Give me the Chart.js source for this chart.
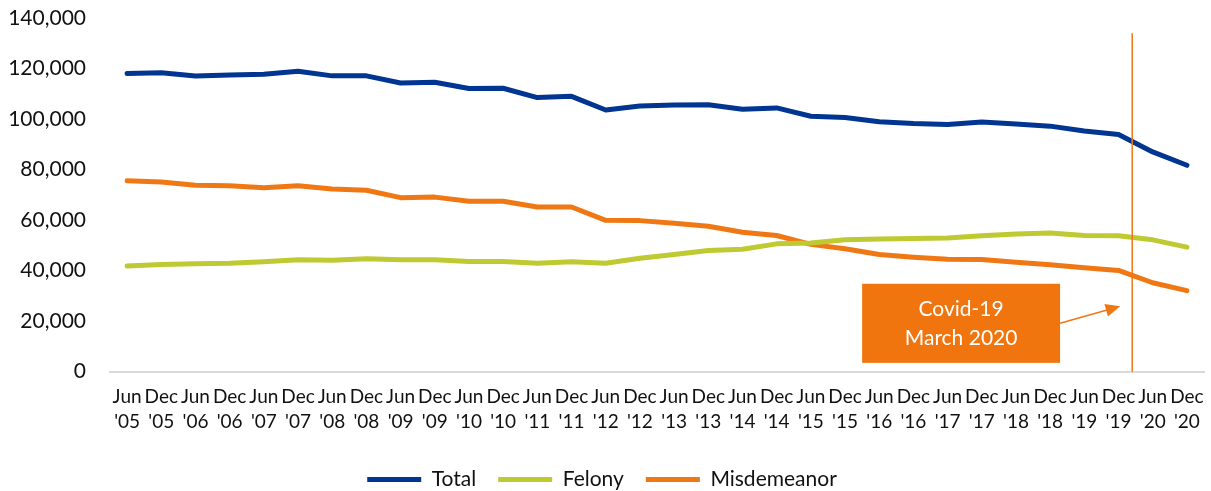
<!DOCTYPE html>
<html>
<head>
<meta charset="utf-8">
<script src="https://cdn.jsdelivr.net/npm/chart.js@4.4.1/dist/chart.umd.min.js"></script>
<style>
  html, body { margin: 0; padding: 0; background: #fff; }
  #wrap { width: 1211px; height: 491px; position: relative; }
</style>
</head>
<body>
<div id="wrap"><canvas id="chart"></canvas></div>
<script>
var labels = [
    ['Jun', "'05"], ['Dec', "'05"], ['Jun', "'06"], ['Dec', "'06"],
    ['Jun', "'07"], ['Dec', "'07"], ['Jun', "'08"], ['Dec', "'08"],
    ['Jun', "'09"], ['Dec', "'09"], ['Jun', "'10"], ['Dec', "'10"],
    ['Jun', "'11"], ['Dec', "'11"], ['Jun', "'12"], ['Dec', "'12"],
    ['Jun', "'13"], ['Dec', "'13"], ['Jun', "'14"], ['Dec', "'14"],
    ['Jun', "'15"], ['Dec', "'15"], ['Jun', "'16"], ['Dec', "'16"],
    ['Jun', "'17"], ['Dec', "'17"], ['Jun', "'18"], ['Dec', "'18"],
    ['Jun', "'19"], ['Dec', "'19"], ['Jun', "'20"], ['Dec', "'20"]
];

var total = [118000, 118300, 117000, 117400, 117700, 118900, 117100, 117100,
    114300, 114600, 112100, 112200, 108500, 109000, 103600, 105200,
    105600, 105700, 103900, 104400, 101100, 100600, 98900, 98200,
    97800, 98800, 98000, 97200, 95300, 93900, 87000, 81700];

var felony = [41800, 42400, 42700, 42950, 43500, 44300, 44100, 44700,
    44300, 44300, 43600, 43600, 42950, 43500, 42950, 44900,
    46400, 48000, 48500, 50600, 50900, 52200, 52500, 52700,
    52900, 53800, 54500, 54900, 53900, 53800, 52200, 49300];

var misdemeanor = [75600, 75100, 73800, 73600, 72800, 73600, 72300, 71800,
    68900, 69100, 67500, 67500, 65200, 65200, 59900, 59800,
    58800, 57600, 55200, 53900, 50400, 48700, 46400, 45300,
    44500, 44400, 43300, 42300, 41100, 40100, 35200, 32100];

var yTicks = [0, 20000, 40000, 60000, 80000, 100000, 120000, 140000];

var covidNote = ['Covid-19', 'March 2020'];

var FONT = 'Lato, "Open Sans", sans-serif';

function series(label, data, color) {
    return {
        label: label,
        data: data,
        borderColor: color,
        backgroundColor: color,
        borderWidth: 5,
        borderCapStyle: 'round',
        borderJoinStyle: 'round',
        tension: 0,
        pointRadius: 0,
        pointHoverRadius: 0,
        pointStyle: 'line'
    };
}

// vertical marker + boxed note with arrow
var covidPlugin = {
    id: 'covid',
    afterDatasetsDraw: function (chart) {
        var ctx = chart.ctx;
        var x = chart.scales.x;
        var y = chart.scales.y;

        var lineX = x.getPixelForValue(29.4);
        ctx.save();
        ctx.strokeStyle = '#F07814';
        ctx.lineWidth = 1.5;
        ctx.beginPath();
        ctx.moveTo(lineX, y.getPixelForValue(134000));
        ctx.lineTo(lineX, y.getPixelForValue(0));
        ctx.stroke();

        var left = x.getPixelForValue(21.5);
        var right = x.getPixelForValue(27.29);
        var top = y.getPixelForValue(34800);
        var bottom = y.getPixelForValue(3500);
        ctx.fillStyle = '#F0750F';
        ctx.fillRect(left, top, right - left, bottom - top);

        ctx.fillStyle = '#ffffff';
        ctx.font = '21px ' + FONT;
        ctx.textAlign = 'center';
        ctx.textBaseline = 'middle';
        var cx = (left + right) / 2;
        var cy = (top + bottom) / 2;
        ctx.fillText(covidNote[0], cx, cy - 14);
        ctx.fillText(covidNote[1], cx, cy + 15);

        // arrow
        var ax0 = right, ay0 = cy;
        var ax1 = x.getPixelForValue(29.05), ay1 = y.getPixelForValue(25900);
        var ang = Math.atan2(ay1 - ay0, ax1 - ax0);
        var head = 16;
        ctx.strokeStyle = '#F07814';
        ctx.fillStyle = '#F07814';
        ctx.lineWidth = 1.5;
        ctx.beginPath();
        ctx.moveTo(ax0, ay0);
        ctx.lineTo(ax1 - Math.cos(ang) * head * 0.8, ay1 - Math.sin(ang) * head * 0.8);
        ctx.stroke();
        ctx.beginPath();
        ctx.moveTo(ax1, ay1);
        ctx.lineTo(ax1 - head * Math.cos(ang - 0.42), ay1 - head * Math.sin(ang - 0.42));
        ctx.lineTo(ax1 - head * Math.cos(ang + 0.42), ay1 - head * Math.sin(ang + 0.42));
        ctx.closePath();
        ctx.fill();
        ctx.restore();
    }
};

new Chart(document.getElementById('chart'), {
    type: 'line',
    data: {
        labels: labels,
        datasets: [
            series('Total', total, '#003591'),
            series('Felony', felony, '#BFC932'),
            series('Misdemeanor', misdemeanor, '#F07814')
        ]
    },
    options: {
        responsive: true,
        maintainAspectRatio: false,
        animation: false,
        events: [],
        layout: { padding: { top: 18, right: 7, left: 0, bottom: -9 } },
        plugins: {
            tooltip: { enabled: false },
            legend: {
                position: 'bottom',
                labels: {
                    usePointStyle: true,
                    pointStyleWidth: 54,
                    boxHeight: 20,
                    color: '#111',
                    font: { family: FONT, size: 21 },
                    padding: 22
                }
            }
        },
        scales: {
            x: {
                offset: true,
                afterFit: function (scale) {
                    scale.paddingLeft = 0;
                    scale.paddingRight = 0;
                },
                grid: { display: false, drawTicks: false },
                border: { display: true, color: '#D9D9D9', width: 2 },
                ticks: {
                    color: '#111',
                    font: { family: FONT, size: 19, lineHeight: 1.35 },
                    padding: 12,
                    maxRotation: 0,
                    minRotation: 0,
                    autoSkip: false
                }
            },
            y: {
                min: 0,
                max: 140000,
                afterFit: function (scale) {
                    scale.width = 110;
                    scale.paddingTop = 0;
                    scale.paddingBottom = 0;
                },
                afterBuildTicks: function (scale) {
                    scale.ticks = yTicks.map(function (v) { return { value: v }; });
                },
                grid: { display: false, drawTicks: false },
                border: { display: false },
                ticks: {
                    color: '#111',
                    font: { family: FONT, size: 21 },
                    padding: 24,
                    callback: function (v) { return v.toLocaleString('en-US'); }
                }
            }
        }
    },
    plugins: [covidPlugin]
});
</script>
</body>
</html>
